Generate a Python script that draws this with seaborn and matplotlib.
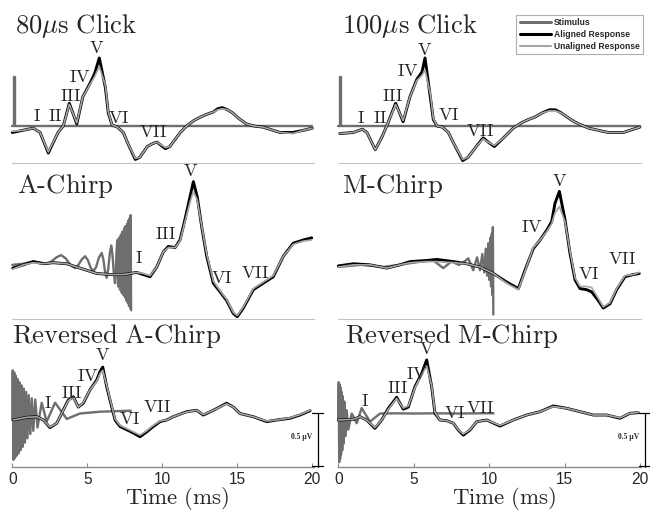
import matplotlib
matplotlib.use("Agg")
import matplotlib.pyplot as plt
from matplotlib.lines import Line2D
import seaborn as sns

# ---------------- data (time in ms, amplitude in microvolts) ----------------
tick_values = [0, 5, 10, 15, 20]
tick_labels = ["0", "5", "10", "15", "20"]
legend_labels = ["Stimulus", "Aligned Response", "Unaligned Response"]

click_stim_t = [0.0, 0.1, 0.1, 0.2, 0.2, 20.0]
click_stim_v = [0.0, 0.0, 0.45, 0.45, 0.0, 0.0]

click80_t = [0.0, 0.7, 1.4, 1.85, 2.4, 3.05, 3.4, 3.8, 4.3, 4.7, 5.2, 5.5, 5.8, 6.2, 6.4,
             6.65, 7.0, 7.4, 7.7, 8.2, 8.5, 9.0, 9.4, 9.65, 10.2, 10.5, 11.2, 11.7, 12.1,
             12.5, 13.0, 13.4, 13.7, 14.0, 14.35, 14.7, 15.1, 15.6, 16.1, 16.7, 17.85, 18.7,
             19.4, 20.0]
click80_aligned = [-0.06, -0.04, -0.02, -0.06, -0.25, -0.06, 0.0, 0.21, 0.02, 0.27, 0.40, 0.49,
                   0.63, 0.36, 0.12, 0.01, -0.01, -0.06, -0.16, -0.31, -0.29, -0.19, -0.16,
                   -0.15, -0.21, -0.19, -0.06, 0.01, 0.05, 0.08, 0.11, 0.13, 0.16, 0.17, 0.15,
                   0.12, 0.07, 0.02, 0.0, -0.01, -0.06, -0.06, -0.04, -0.02]
click80_unaligned = [-0.05, -0.04, -0.02, -0.06, -0.24, -0.06, 0.0, 0.20, 0.03, 0.27, 0.39, 0.46,
                     0.55, 0.38, 0.13, 0.01, -0.01, -0.06, -0.16, -0.30, -0.29, -0.19, -0.16,
                     -0.15, -0.20, -0.19, -0.06, 0.01, 0.05, 0.08, 0.11, 0.13, 0.15, 0.16, 0.15,
                     0.12, 0.07, 0.02, 0.0, -0.01, -0.06, -0.07, -0.04, -0.02]

click100_t = [0.1, 1.0, 1.6, 1.9, 2.45, 2.9, 3.3, 3.8, 4.3, 4.75, 5.2, 5.55, 5.75, 6.1, 6.3,
              6.55, 6.9, 7.3, 7.65, 8.25, 8.6, 9.15, 9.6, 9.95, 10.35, 10.95, 11.6, 12.15,
              12.6, 13.0, 13.5, 14.0, 14.4, 14.8, 15.2, 15.65, 16.1, 16.6, 17.9, 18.9, 20.0]
click100_aligned = [-0.07, -0.06, -0.03, -0.06, -0.22, -0.10, 0.03, 0.21, 0.04, 0.27, 0.43,
                    0.50, 0.63, 0.27, 0.06, 0.0, -0.01, -0.06, -0.16, -0.32, -0.29, -0.19,
                    -0.11, -0.15, -0.19, -0.11, -0.02, 0.03, 0.06, 0.08, 0.12, 0.15, 0.15,
                    0.12, 0.08, 0.04, 0.01, -0.02, -0.06, -0.06, -0.01]
click100_unaligned = [-0.07, -0.06, -0.03, -0.06, -0.22, -0.10, 0.03, 0.20, 0.05, 0.27, 0.42,
                      0.47, 0.52, 0.30, 0.07, 0.0, -0.01, -0.06, -0.16, -0.31, -0.29, -0.19,
                      -0.12, -0.15, -0.18, -0.11, -0.02, 0.03, 0.06, 0.08, 0.12, 0.14, 0.14,
                      0.12, 0.08, 0.04, 0.01, -0.02, -0.06, -0.06, -0.01]

achirp_stim_t = [0.0, 0.7, 1.4, 1.9, 2.3, 2.6, 2.95, 3.25, 3.56, 3.87, 4.18, 4.40, 4.63, 4.85,
                 5.03, 5.22, 5.4, 5.59, 5.77, 5.96, 6.07, 6.18, 6.29, 6.39, 6.5, 6.6, 6.68,
                 6.77, 6.85, 6.9, 6.95, 7.0, 7.06, 7.12, 7.18, 7.24, 7.30, 7.36, 7.41, 7.46,
                 7.51, 7.56, 7.61, 7.66, 7.70, 7.74, 7.78, 7.82, 7.86, 7.89, 7.92]
achirp_stim_v = [0.02, 0.03, 0.05, 0.04, 0.03, 0.05, 0.09, 0.11, 0.08, 0.02, -0.01, 0.018,
                 0.07, 0.10, 0.065, -0.005, -0.04, 0.0, 0.087, 0.13, 0.07, -0.04, -0.10,
                 -0.025, 0.125, 0.20, 0.11, -0.06, -0.15, -0.05, 0.15, 0.25, -0.18, 0.27,
                 -0.21, 0.30, -0.24, 0.33, -0.26, 0.36, -0.28, 0.38, -0.31, 0.40, -0.33,
                 0.43, -0.36, 0.45, -0.38, 0.48, -0.40]
achirp_t = [0.03, 0.73, 1.4, 2.07, 2.73, 3.63, 4.51, 5.63, 6.51, 7.4, 8.29, 8.73, 9.18, 9.63,
            10.07, 10.4, 10.85, 11.18, 11.51, 11.85, 12.07, 12.33, 12.63, 12.96, 13.4, 13.85,
            14.29, 14.73, 15.0, 15.4, 16.07, 16.73, 17.4, 18.07, 18.73, 19.4, 19.96]
achirp_aligned = [-0.01, 0.02, 0.05, 0.03, 0.04, 0.03, -0.01, -0.06, -0.07, -0.07, -0.05,
                  -0.07, -0.09, 0.0, 0.14, 0.19, 0.18, 0.25, 0.44, 0.65, 0.79, 0.65, 0.37,
                  0.10, -0.15, -0.23, -0.31, -0.43, -0.46, -0.38, -0.21, -0.15, -0.09, 0.10,
                  0.22, 0.25, 0.27]
achirp_unaligned = [-0.02, 0.02, 0.04, 0.03, 0.04, 0.03, -0.01, -0.06, -0.07, -0.07, -0.05,
                    -0.06, -0.08, 0.0, 0.14, 0.18, 0.18, 0.24, 0.42, 0.60, 0.70, 0.62, 0.38,
                    0.12, -0.13, -0.22, -0.30, -0.42, -0.45, -0.37, -0.20, -0.14, -0.08, 0.10,
                    0.21, 0.24, 0.25]

mchirp_stim_t = [0.0, 1.5, 3.0, 4.5, 5.5, 6.3, 6.96, 7.5, 8.0, 8.35, 8.62, 8.95, 9.2, 9.4,
                 9.55, 9.68, 9.78, 9.87, 9.95, 10.02, 10.08, 10.13, 10.18, 10.22, 10.25, 10.28]
mchirp_stim_v = [0.0, 0.02, 0.0, 0.03, 0.05, 0.06, -0.01, 0.05, 0.02, 0.05, 0.08, -0.03, 0.09,
                 -0.03, 0.12, -0.05, 0.17, -0.08, 0.22, -0.12, 0.27, -0.18, 0.31, -0.26, 0.37,
                 -0.44]
mchirp_t = [0.0, 1.0, 2.1, 3.21, 4.09, 4.76, 5.86, 6.53, 7.63, 8.51, 9.4, 10.28, 11.17, 11.94,
            12.38, 12.93, 13.38, 13.82, 14.15, 14.37, 14.66, 15.03, 15.36, 15.7, 16.03, 16.47,
            16.8, 17.24, 17.57, 18.02, 18.46, 19.01, 19.56, 19.96]
mchirp_aligned = [0.01, 0.03, 0.02, -0.01, 0.02, 0.05, 0.06, 0.07, 0.05, 0.03, 0.0, -0.06,
                  -0.14, -0.20, -0.03, 0.17, 0.25, 0.34, 0.42, 0.59, 0.70, 0.44, 0.13, -0.12,
                  -0.20, -0.21, -0.23, -0.31, -0.38, -0.34, -0.21, -0.09, -0.07, -0.06]
mchirp_unaligned = [0.0, 0.02, 0.02, -0.01, 0.02, 0.04, 0.05, 0.05, 0.04, 0.03, 0.0, -0.06,
                    -0.15, -0.21, -0.04, 0.18, 0.25, 0.33, 0.40, 0.50, 0.56, 0.42, 0.15, -0.10,
                    -0.18, -0.18, -0.19, -0.29, -0.37, -0.33, -0.20, -0.08, -0.07, -0.05]

revachirp_stim_t = [0.00, 0.03, 0.08, 0.13, 0.18, 0.23, 0.29, 0.35, 0.41, 0.47, 0.54, 0.61,
                    0.68, 0.76, 0.84, 0.92, 1.01, 1.10, 1.20, 1.30, 1.40, 1.53, 1.68, 1.96,
                    2.29, 2.85, 3.63, 4.51, 5.85, 7.90]
revachirp_stim_v = [0.0, 0.46, -0.37, 0.44, -0.35, 0.41, -0.33, 0.38, -0.31, 0.35, -0.28,
                    0.32, -0.25, 0.29, -0.21, 0.26, -0.17, 0.23, -0.13, 0.20, -0.10, 0.19,
                    -0.07, 0.16, -0.015, 0.16, 0.01, 0.06, 0.077, 0.086]
revachirp_t = [0.07, 0.96, 1.63, 2.07, 2.51, 2.96, 3.29, 3.73, 4.07, 4.4, 4.73, 5.18, 5.63,
               5.85, 6.03, 6.29, 6.63, 6.85, 7.18, 7.63, 8.07, 8.51, 8.96, 9.4, 9.85, 10.29,
               10.73, 11.63, 12.29, 12.73, 13.4, 14.29, 14.73, 15.18, 16.07, 16.96, 17.63,
               18.51, 19.18, 19.85]
revachirp_aligned = [0.0, 0.025, 0.03, 0.0, -0.07, -0.03, 0.06, 0.185, 0.215, 0.12, 0.155,
                     0.28, 0.37, 0.45, 0.49, 0.31, 0.12, 0.0, -0.06, -0.09, -0.12, -0.155,
                     -0.11, -0.06, -0.015, 0.0, 0.03, 0.077, 0.09, 0.046, 0.09, 0.155, 0.12,
                     0.06, 0.03, -0.015, 0.0, 0.016, 0.046, 0.086]
revachirp_unaligned = [0.0, 0.025, 0.03, 0.0, -0.065, -0.03, 0.06, 0.18, 0.21, 0.12, 0.16,
                       0.28, 0.36, 0.43, 0.46, 0.32, 0.13, 0.01, -0.05, -0.08, -0.11, -0.14,
                       -0.10, -0.05, -0.01, 0.0, 0.03, 0.075, 0.09, 0.05, 0.09, 0.15, 0.12,
                       0.06, 0.03, -0.01, 0.0, 0.02, 0.05, 0.09]

revmchirp_stim_t = [0.0, 0.03, 0.06, 0.09, 0.12, 0.15, 0.18, 0.22, 0.26, 0.30, 0.35, 0.40,
                    0.46, 0.56, 0.66, 0.89, 1.22, 1.55, 2.1, 2.77, 3.87, 5.0, 6.5, 8.0, 9.5,
                    10.3]
revmchirp_stim_v = [0.0, 0.35, -0.39, 0.33, -0.36, 0.30, -0.32, 0.26, -0.28, 0.22, -0.22,
                    0.17, -0.15, 0.09, -0.09, 0.06, -0.03, 0.11, -0.015, 0.06, 0.062, 0.06,
                    0.062, 0.06, 0.062, 0.062]
revmchirp_t = [0.0, 1.0, 1.44, 1.88, 2.43, 2.88, 3.32, 3.87, 4.31, 4.64, 5.09, 5.53, 5.86,
               6.19, 6.41, 6.74, 7.19, 7.63, 7.96, 8.29, 8.73, 9.18, 9.84, 10.72, 11.6,
               12.49, 13.38, 14.26, 15.15, 16.03, 16.91, 17.8, 18.68, 19.34, 19.89]
revmchirp_aligned = [0.0, 0.006, 0.03, 0.0, -0.077, 0.0, 0.108, 0.21, 0.10, 0.12, 0.31, 0.43,
                     0.556, 0.31, 0.062, 0.0, -0.006, -0.03, -0.093, -0.14, -0.093, -0.016,
                     0.0, -0.056, 0.0, 0.046, 0.077, 0.13, 0.108, 0.077, 0.046, 0.046, 0.016,
                     0.062, 0.068]
revmchirp_unaligned = [0.0, 0.006, 0.03, 0.0, -0.07, 0.0, 0.10, 0.20, 0.11, 0.13, 0.30, 0.42,
                       0.50, 0.32, 0.07, 0.0, -0.006, -0.03, -0.09, -0.13, -0.09, -0.016, 0.0,
                       -0.05, 0.0, 0.046, 0.077, 0.125, 0.108, 0.077, 0.046, 0.046, 0.02,
                       0.062, 0.07]

# wave labels: (text, time, amplitude)
click80_labels = [("I", 1.63, 0.085), ("II", 2.85, 0.085), ("III", 3.85, 0.27), ("IV", 4.51, 0.45),
                  ("V", 5.63, 0.72), ("VI", 7.07, 0.07), ("VII", 9.4, -0.06)]
click100_labels = [("I", 1.5, 0.07), ("II", 2.77, 0.07), ("III", 3.61, 0.27), ("IV", 4.64, 0.50),
                   ("V", 5.75, 0.70), ("VI", 7.3, 0.10), ("VII", 9.4, -0.05)]
achirp_labels = [("I", 8.47, 0.08), ("III", 10.18, 0.30), ("V", 11.89, 0.88), ("VI", 13.96, -0.105),
                 ("VII", 16.18, -0.06)]
mchirp_labels = [("IV", 12.82, 0.37), ("V", 14.66, 0.79), ("VI", 16.64, -0.07), ("VII", 18.79, 0.065)]
revachirp_labels = [("I", 2.4, 0.155), ("III", 3.96, 0.25), ("IV", 5.07, 0.40), ("V", 6.03, 0.60),
                    ("VI", 7.85, 0.0), ("VII", 9.63, 0.118)]
revmchirp_labels = [("I", 1.77, 0.17), ("III", 3.91, 0.29), ("IV", 5.2, 0.42), ("V", 5.86, 0.65),
                    ("VI", 7.74, 0.062), ("VII", 9.4, 0.108)]

titles = [r"$\mathrm{80}\mu\mathrm{s\ Click}$", r"$\mathrm{100}\mu\mathrm{s\ Click}$",
          r"$\mathrm{A\text{-}Chirp}$", r"$\mathrm{M\text{-}Chirp}$",
          r"$\mathrm{Reversed\ A\text{-}Chirp}$", r"$\mathrm{Reversed\ M\text{-}Chirp}$"]

# ---------------- styling / layout ----------------
sns.set_style("white")
plt.rcParams["font.family"] = ["Liberation Sans", "DejaVu Sans"]
plt.rcParams["mathtext.fontset"] = "cm"

W, H = 650, 512
PX_PER_UV = 108.0
STIM_C, ALIGN_C, UNAL_C = "#6e6e6e", "#000000", "#a6a6a6"

fig = plt.figure(figsize=(W / 100, H / 100), dpi=100)

cols = [dict(l=0, r=325, x0=12.3, sx=15.0), dict(l=326, r=650, x0=338.3, sx=15.08)]
rows = [dict(t=0, b=163, base=126), dict(t=163, b=319, base=267), dict(t=319, b=467, base=420)]

panels = [
    (0, 0, click_stim_t, click_stim_v, click80_t, click80_aligned, click80_unaligned, click80_labels, (0.18, 0.861)),
    (0, 1, click_stim_t, click_stim_v, click100_t, click100_aligned, click100_unaligned, click100_labels, (0.24, 0.861)),
    (1, 0, achirp_stim_t, achirp_stim_v, achirp_t, achirp_aligned, achirp_unaligned, achirp_labels, (0.31, 0.685)),
    (1, 1, mchirp_stim_t, mchirp_stim_v, mchirp_t, mchirp_aligned, mchirp_unaligned, mchirp_labels, (0.24, 0.685)),
    (2, 0, revachirp_stim_t, revachirp_stim_v, revachirp_t, revachirp_aligned, revachirp_unaligned, revachirp_labels, (-0.02, 0.713)),
    (2, 1, revmchirp_stim_t, revmchirp_stim_v, revmchirp_t, revmchirp_aligned, revmchirp_unaligned, revmchirp_labels, (0.44, 0.713)),
]

for i, (ri, ci, st, sv, t, a, u, labs, txy) in enumerate(panels):
    c, r = cols[ci], rows[ri]
    ax = fig.add_axes([c["l"] / W, 1 - r["b"] / H, (c["r"] - c["l"]) / W, (r["b"] - r["t"]) / H])
    ax.patch.set_alpha(0)
    sns.lineplot(x=st, y=sv, ax=ax, color=STIM_C, linewidth=1.7, estimator=None, sort=False,
                 legend=False, zorder=2)
    sns.lineplot(x=t, y=a, ax=ax, color=ALIGN_C, linewidth=2.1, estimator=None, sort=False,
                 legend=False, zorder=3)
    sns.lineplot(x=t, y=u, ax=ax, color=UNAL_C, linewidth=1.2, estimator=None, sort=False,
                 legend=False, zorder=4)
    xlim = ((c["l"] - c["x0"]) / c["sx"], (c["r"] - c["x0"]) / c["sx"])
    ylim = ((r["base"] - r["b"]) / PX_PER_UV, (r["base"] - r["t"]) / PX_PER_UV)
    ax.set_xlim(*xlim)
    ax.set_ylim(*ylim)
    ax.set_ylabel("")
    ax.set_yticks([])
    for s in ("top", "left", "right"):
        ax.spines[s].set_visible(False)
    ax.spines["bottom"].set_bounds(0, 20.1)
    ax.text(txy[0], txy[1], titles[i], fontsize=19.2, ha="left", va="baseline", zorder=6)
    for lab, lt, lv in labs:
        ax.text(lt, lv, r"$\mathrm{%s}$" % lab, fontsize=13, ha="center", va="center", zorder=6)
    if ri < 2:
        ax.spines["bottom"].set_color("#c4c4c4")
        ax.spines["bottom"].set_linewidth(0.8)
        ax.set_xticks([])
        ax.set_xlabel("")
    else:
        ax.spines["bottom"].set_color("#8a8a8a")
        ax.spines["bottom"].set_linewidth(1.0)
        ax.set_xticks(tick_values)
        ax.set_xticklabels(tick_labels)
        ax.tick_params(axis="x", direction="in", length=3, width=0.8, color="#8a8a8a",
                       labelsize=11.2, pad=3.5, bottom=True)
        ax.set_xlabel(r"$\mathrm{Time\ (ms)}$", fontsize=16.5)
        xfrac = (11.0 - xlim[0]) / (xlim[1] - xlim[0])
        ax.xaxis.set_label_coords(xfrac, -0.212)
        ax.xaxis.label.set_va("center")
        # 0.5 uV scale bar
        xb = 20.4 if ci == 0 else 20.34
        ax.plot([xb, xb], [ylim[0], ylim[0] + 0.5], color="black", lw=0.9, clip_on=False, zorder=5)
        for yy in (ylim[0] + 0.012, ylim[0] + 0.5):
            ax.plot([xb - 0.4, xb + 0.3], [yy, yy], color="black", lw=0.9, clip_on=False, zorder=5)
        ax.text(xb - 1.1, ylim[0] + 0.275, "0.5 µV", fontsize=5.5, family="Liberation Serif",
                fontweight="bold", ha="center", va="center")
    if ri == 0 and ci == 1:
        handles = [Line2D([], [], color=STIM_C, lw=2.2), Line2D([], [], color=ALIGN_C, lw=2.2),
                   Line2D([], [], color=UNAL_C, lw=1.5)]
        leg = ax.legend(handles, legend_labels, loc="upper right", bbox_to_anchor=(643 / W, 1 - 15 / H),
                        bbox_transform=fig.transFigure, frameon=True, fancybox=False,
                        borderaxespad=0, handlelength=3.6, handletextpad=0.35, labelspacing=0.3,
                        borderpad=0.4, prop=dict(size=6.2, weight="bold"))
        leg.get_frame().set_edgecolor("#9a9a9a")
        leg.get_frame().set_linewidth(0.8)

fig.savefig("out.png", dpi=100)
